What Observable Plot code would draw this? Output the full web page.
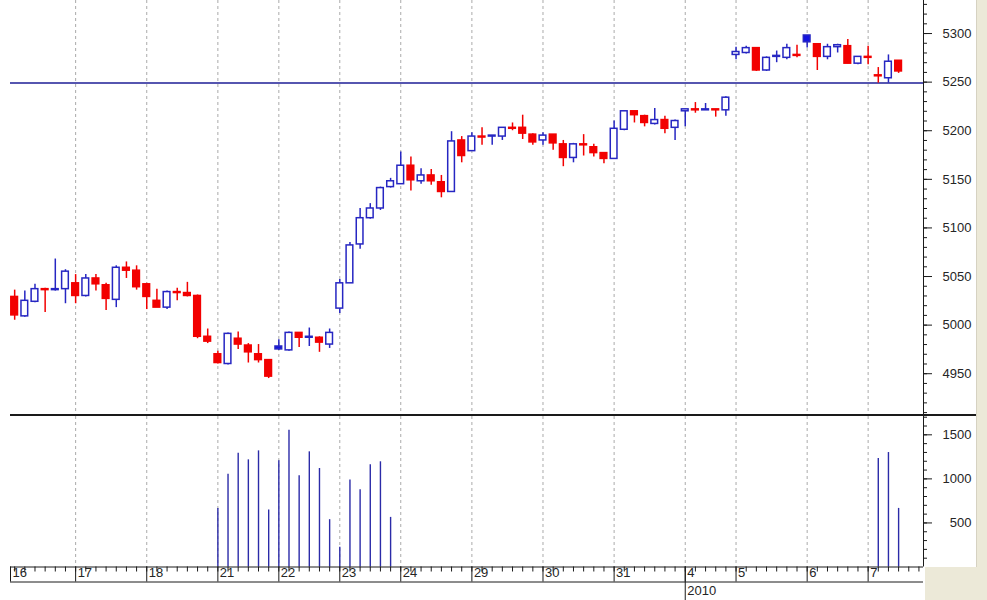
<!DOCTYPE html>
<html><head><meta charset="utf-8">
<script src="https://cdn.jsdelivr.net/npm/d3@7"></script>
<script src="https://cdn.jsdelivr.net/npm/@observablehq/plot@0.6"></script>
<style>
body{margin:0;background:#fff;}
#wrap{position:relative;width:987px;height:600px;overflow:hidden;background:#fff;}
#price{position:absolute;left:0;top:0;}
#vol{position:absolute;left:0;top:413px;}
#side{position:absolute;left:976px;top:0;width:11px;height:600px;background:#ece9d8;border-left:1px solid #d6d2c2;}
#corner{position:absolute;left:925px;top:567px;width:62px;height:33px;background:#ece9d8;}
</style></head>
<body><div id="wrap"><div id="price"></div><div id="vol"></div><div id="side"></div><div id="corner"></div></div>
<script>
// ---- data (one candle per hourly slot, slot 0 = first visible candle) ----
const open  = [5029,5009,5024,5037,5036,5037,5043,5030,5048,5041,5026,5059,5056,5042,5025,5018,5034,5033,5030,4988,
               4970,4960,4986,4979,4970,4964,4978,4974,4992,4987,4987,4980,5017,5043,5083,5110,5120,5142,5145,5164,
               5148,5154,5147,5137,5190,5179,5194,5194,5194,5203,5203,5196,5190,5196,5186,5172,5186,5183,5177,5171,
               5201,5220,5215,5207,5211,5203,5220,5222,5221,5222,5221,5278,5280,5285,5262,5276,5275,5278,5298,5289,
               5276,5286,5287,5269,5276,5257,5254,5272];
const high  = [5036,5035,5042,5038,5068,5057,5052,5052,5052,5043,5061,5065,5061,5043,5037,5035,5038,5044,5031,4996,
               4973,4992,4993,4981,4980,4964,4985,4993,4992,4997,4988,4996,5047,5085,5120,5125,5142,5151,5178,5173,
               5161,5160,5154,5199,5194,5198,5203,5195,5203,5208,5216,5197,5198,5196,5190,5187,5196,5186,5177,5210,
               5220,5220,5216,5223,5215,5211,5222,5229,5228,5222,5235,5286,5287,5285,5276,5282,5289,5288,5298,5289,
               5289,5289,5294,5276,5287,5265,5278,5272];
const low   = [5005,5008,5023,5013,5035,5022,5022,5029,5035,5015,5018,5048,5036,5016,5018,5016,5025,5029,4986,4981,
               4960,4959,4975,4961,4961,4945,4974,4973,4977,4978,4972,4976,5012,5043,5078,5109,5118,5141,5145,5138,
               5145,5144,5131,5137,5167,5179,5185,5185,5190,5200,5191,5185,5185,5180,5163,5167,5174,5173,5166,5171,
               5200,5208,5204,5206,5197,5190,5204,5218,5221,5214,5215,5273,5279,5261,5261,5270,5273,5275,5285,5262,
               5273,5280,5269,5268,5268,5249,5249,5259];
const close = [5010,5025,5037,5036,5037,5055,5030,5048,5042,5027,5059,5056,5039,5029,5018,5034,5033,5030,4988,4983,
               4961,4991,4980,4972,4964,4947,4975,4992,4987,4988,4982,4992,5043,5082,5110,5120,5141,5148,5164,5149,
               5154,5148,5137,5189,5174,5194,5193,5195,5203,5202,5197,5188,5195,5187,5172,5186,5185,5177,5171,5202,
               5220,5216,5208,5211,5202,5210,5222,5221,5222,5221,5234,5281,5285,5262,5275,5277,5285,5277,5291,5276,
               5286,5288,5269,5276,5275,5256,5271,5261];
const volume = [null,null,null,null,null,null,null,null,null,null,null,null,null,null,null,null,null,null,null,null,
               665,1054,1292,1216,1318,647,1205,1552,1035,1307,1118,537,224,986,877,1160,1194,563,null,null,
               null,null,null,null,null,null,null,null,null,null,null,null,null,null,null,null,null,null,null,null,
               null,null,null,null,null,null,null,null,null,null,null,null,null,null,null,null,null,null,null,null,
               null,null,null,null,null,1231,1299,665];
const dayLabels  = ["16","17","18","21","22","23","24","29","30","31","4","5","6","7"];
const dayCandles = [7,7,7,6,6,6,7,7,7,7,5,7,6,4];
const firstDayStart = -1;          // first slot of day 16 lies left of the view
const yearLabel = "2010";          // shown under the "4" (first day of the new year)
const yearDayIndex = 10;
const levelLine = 5249;
const priceTicks = [4950,5000,5050,5100,5150,5200,5250,5300];
const volumeTicks = [500,1000,1500];

// ---- derived ----
const RED = "#f20000", BLUE = "#2626c2", BLUEFILL = "#1414e0";
const candles = open.map((o, i) => {
  const up = i === 0 ? close[i] >= o : close[i] >= close[i - 1];
  return {i, o, h: high[i], l: low[i], c: close[i], col: up ? BLUE : RED,
          fillc: close[i] < o ? (up ? BLUEFILL : RED) : "white"};
});
const vols = volume.map((v, i) => ({i, v})).filter(d => d.v != null);
const xDomain = [-0.41, 89.45];
let s = firstDayStart;
const days = dayLabels.map((lab, k) => { const st = s; s += dayCandles[k]; return {lab, st, tx: Math.max(st, xDomain[0])}; });
const labelAt = new Map(days.map(d => [d.tx, d.lab]));
const slots = d3.range(0, Math.floor(xDomain[1]) + 1);
const font = {fontFamily: "'Liberation Sans', Arial, sans-serif", fontSize: "13px", color: "#222", background: "transparent"};
const noText = {text: null, tickFormat: () => ""};
const ink = "#1a1a1a";

// tick marks only (no text) and text only (no ticks) so labels are never stroked
const yTicks = (ticks, size) => Plot.axisY({anchor: "right", ticks, tickSize: size, stroke: ink, ...noText});
const yLabels = (ticks) => Plot.axisY({anchor: "right", ticks, tickSize: 0, tickPadding: 0, textAnchor: "end",
  dx: 48, tickFormat: d => String(d), fill: "#252525"});

const price = Plot.plot({
  width: 987, height: 415, marginLeft: 10, marginRight: 64, marginTop: 0, marginBottom: 0,
  x: {domain: xDomain, axis: null, label: null},
  y: {domain: [4907, 5334], label: null},
  color: {type: "identity"},
  style: font,
  marks: [
    Plot.ruleX(days.slice(1), {x: "st", stroke: "#aaa", strokeDasharray: "3,3"}),
    Plot.ruleY([levelLine], {stroke: "#1e1e96", strokeWidth: 1.5}),
    Plot.ruleX(candles, {x: "i", y1: "l", y2: "h", stroke: "col", strokeWidth: 1.5}),
    Plot.rect(candles, {x1: d => d.i - 0.33, x2: d => d.i + 0.33, y1: "o", y2: "c",
      fill: "fillc", stroke: "col", strokeWidth: 1.5}),
    Plot.ruleX([xDomain[1]], {stroke: ink}),
    yTicks(d3.range(4910, 5331, 10), 3),
    yTicks(priceTicks, 8),
    yLabels(priceTicks)
  ]
});
document.getElementById("price").appendChild(price);

const V = 1708;
const vol = Plot.plot({
  width: 987, height: 187, marginLeft: 10, marginRight: 64, marginTop: 3, marginBottom: 33.5,
  x: {domain: xDomain, label: null},
  y: {domain: [0, V], label: null},
  style: font,
  marks: [
    Plot.ruleY([V], {stroke: ink, strokeWidth: 2, dy: -1.5, insetRight: -53}),
    Plot.ruleX(days.slice(1), {x: "st", stroke: "#aaa", strokeDasharray: "3,3"}),
    Plot.ruleX(vols, {x: "i", y: "v", stroke: "#2b2ba8", strokeWidth: 1.4}),
    Plot.ruleX([xDomain[1]], {stroke: ink}),
    yTicks(d3.range(100, V, 100), 3),
    yTicks(volumeTicks, 8),
    yLabels(volumeTicks),
    Plot.ruleY([0], {stroke: ink}),
    Plot.ruleY([0], {stroke: ink, dy: 15}),
    Plot.axisX({ticks: slots, tickSize: 5, stroke: ink, ...noText}),
    Plot.axisX({ticks: days.map(d => d.tx), tickSize: 15, stroke: ink, ...noText}),
    Plot.axisX({ticks: days.map(d => d.tx), tickSize: 0, tickPadding: 0, tickFormat: d => labelAt.get(d),
      textAnchor: "start", dx: 2, dy: 1, fill: "#252525"}),
    Plot.axisX({ticks: [days[yearDayIndex].tx], tickSize: 34, stroke: ink, ...noText}),
    Plot.axisX({ticks: [days[yearDayIndex].tx], tickSize: 0, tickPadding: 0, tickFormat: () => yearLabel,
      textAnchor: "start", dx: 2, dy: 19, fill: "#252525"})
  ]
});
document.getElementById("vol").appendChild(vol);
</script>
</body></html>
